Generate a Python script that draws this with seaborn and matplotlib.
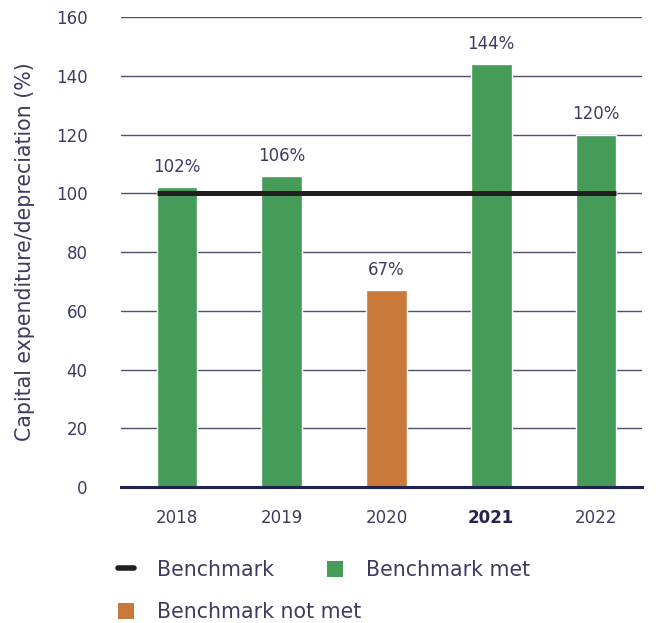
import matplotlib
matplotlib.use("Agg")
import matplotlib.pyplot as plt
from matplotlib.lines import Line2D
from matplotlib.patches import Patch
import seaborn as sns
import pandas as pd

years = ["2018", "2019", "2020", "2021", "2022"]
ratios = [102, 106, 67, 144, 120]
status = ["Benchmark met", "Benchmark met", "Benchmark not met", "Benchmark met", "Benchmark met"]
benchmark = 100
y_ticks = [0, 20, 40, 60, 80, 100, 120, 140, 160]

GREEN = "#459b58"
ORANGE = "#c97a3b"
TEXT = "#3b3d60"
NAVY = "#22244f"

sns.set_theme(style="white")
plt.rcParams["font.family"] = ["DejaVu Sans"]

df = pd.DataFrame({"year": years, "ratio": ratios, "status": status})

fig = plt.figure(figsize=(6.56, 6.23), dpi=100)
ax = fig.add_axes([0.1845, 0.2183, 0.7942, 0.7544])

sns.barplot(data=df, x="year", y="ratio", hue="status",
            palette={"Benchmark met": GREEN, "Benchmark not met": ORANGE},
            dodge=False, width=0.39, saturation=1, legend=False, ax=ax, zorder=3)

ax.set_xlim(-0.535, 4.44)
ax.set_ylim(0, 160)
ax.set_yticks(y_ticks)
ax.yaxis.grid(True, color=NAVY, linewidth=1.0, alpha=0.8, zorder=0)
ax.set_axisbelow(True)
for s in ["top", "right", "left"]:
    ax.spines[s].set_visible(False)
ax.spines["bottom"].set_color(NAVY)
ax.spines["bottom"].set_linewidth(2.2)
ax.spines["bottom"].set_zorder(5)

ax.tick_params(axis="both", length=0, labelsize=12, colors=TEXT)
ax.tick_params(axis="y", pad=24)
ax.tick_params(axis="x", pad=16)
for lbl in ax.get_xticklabels():
    if lbl.get_text() == "2021":
        lbl.set_fontweight("bold")
        lbl.set_color(NAVY)

ax.set_xlabel("")
ax.set_ylabel("Capital expenditure/depreciation (%)", fontsize=14.8, color=TEXT)
ax.yaxis.set_label_coords(-0.165, 0.5)

# value labels above each bar
for i, v in enumerate(ratios):
    ax.annotate(f"{v}%", (i, v), xytext=(0, 8), textcoords="offset points",
                ha="center", va="bottom", fontsize=12, color=TEXT, zorder=6)

# benchmark line spanning the bars
half = 0.39 / 2
ax.plot([-half, len(years) - 1 + half], [benchmark, benchmark],
        color="#231f20", linewidth=3.6, solid_capstyle="butt", zorder=4)

h_bench = Line2D([0], [0], color="#231f20", linewidth=4, solid_capstyle="round")
h_met = Patch(facecolor=GREEN, edgecolor="none")
h_not = Patch(facecolor=ORANGE, edgecolor="none")

leg_kw = dict(frameon=False, prop={"size": 14.8},
              labelcolor=TEXT, handlelength=0.78, handleheight=0.83,
              handletextpad=1.1, borderaxespad=0, borderpad=0)
fig.legend([h_bench, h_met], ["Benchmark", "Benchmark met"], ncol=2,
           loc="center left", bbox_to_anchor=(0.18, 0.085),
           columnspacing=2.6, **leg_kw)
fig.legend([h_not], ["Benchmark not met"], loc="center left",
           bbox_to_anchor=(0.18, 0.017), **leg_kw)

fig.savefig("out.png", dpi=100)
